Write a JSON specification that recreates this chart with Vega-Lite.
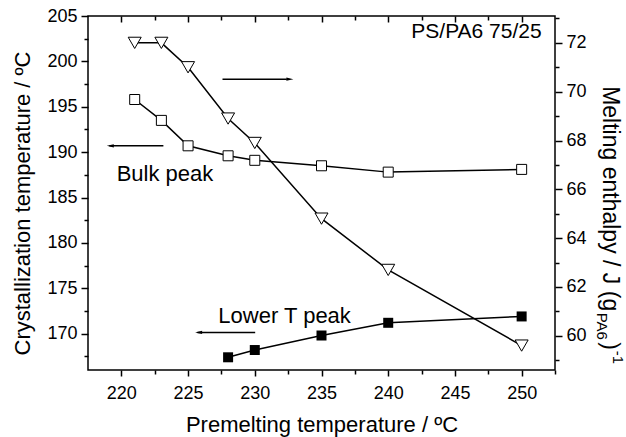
{
  "$schema": "https://vega.github.io/schema/vega-lite/v6.json",
  "width": 467,
  "height": 354,
  "autosize": {"type": "none"},
  "padding": {"left": 88, "top": 16, "right": 71, "bottom": 67},
  "background": "white",
  "config": {
    "view": {"stroke": "black", "strokeWidth": 1.5},
    "font": "Liberation Sans",
    "axis": {"domain": false, "grid": false, "tickColor": "black", "tickWidth": 1.5, "labelColor": "black", "titleColor": "black", "labelFont": "Liberation Sans", "titleFont": "Liberation Sans", "labelFontSize": 18, "titleFontSize": 22, "titleFontWeight": "normal", "labelOverlap": false}
  },
  "datasets": {
    "pts": [
      {"T": 221, "v": 195.8, "s": "bulk"},
      {"T": 223, "v": 193.5, "s": "bulk"},
      {"T": 225, "v": 190.7, "s": "bulk"},
      {"T": 228, "v": 189.6, "s": "bulk"},
      {"T": 230, "v": 189.1, "s": "bulk"},
      {"T": 235, "v": 188.5, "s": "bulk"},
      {"T": 240, "v": 187.8, "s": "bulk"},
      {"T": 250, "v": 188.1, "s": "bulk"},
      {"T": 228, "v": 167.4, "s": "lower"},
      {"T": 230, "v": 168.2, "s": "lower"},
      {"T": 235, "v": 169.8, "s": "lower"},
      {"T": 240, "v": 171.2, "s": "lower"},
      {"T": 250, "v": 171.9, "s": "lower"},
      {"T": 221, "v": 72.0, "s": "enth"},
      {"T": 223, "v": 72.0, "s": "enth"},
      {"T": 225, "v": 71.0, "s": "enth"},
      {"T": 228, "v": 68.9, "s": "enth"},
      {"T": 230, "v": 67.9, "s": "enth"},
      {"T": 235, "v": 64.8, "s": "enth"},
      {"T": 240, "v": 62.7, "s": "enth"},
      {"T": 250, "v": 59.6, "s": "enth"}
    ],
    "ann": [
      {"x": 219.65, "y": 187.6, "label": "Bulk peak", "a": "left"},
      {"x": 227.27, "y": 172.0, "label": "Lower T peak", "a": "left"},
      {"x": 251.5, "y": 203.2, "label": "PS/PA6 75/25", "a": "right"}
    ],
    "arrows": [
      {"x": 227.58, "x2": 232.4, "y": 198.04},
      {"x": 219.1, "x2": 223.15, "y": 190.7},
      {"x": 225.7, "x2": 230.03, "y": 170.14}
    ],
    "heads": [
      {"x": 232.63, "y": 198.04, "dir": "right"},
      {"x": 219.17, "y": 190.7, "dir": "left"},
      {"x": 225.79, "y": 170.14, "dir": "left"}
    ],
    "rt": [{"x": 256.1, "y": 197.27}]
  },
  "layer": [
    {
      "layer": [
        {"data": {"name": "pts"}, "mark": {"type": "point", "opacity": 0},
         "encoding": {"x": {"field": "T", "type": "quantitative", "scale": {"domain": [217.5, 252.5], "nice": false, "zero": false},
           "axis": {"orient": "bottom", "values": [220, 225, 230, 235, 240, 245, 250], "tickSize": 6, "labelPadding": 8, "title": "Premelting temperature / ºC", "titlePadding": 12}}}},
        {"data": {"name": "pts"}, "mark": {"type": "point", "opacity": 0},
         "encoding": {"x": {"field": "T", "type": "quantitative", "scale": {"domain": [217.5, 252.5], "nice": false, "zero": false},
           "axis": {"orient": "bottom", "values": [222.5, 227.5, 232.5, 237.5, 242.5, 247.5, 252.5], "tickSize": 4, "labels": false, "title": null}}}},
        {"data": {"name": "pts"}, "mark": {"type": "point", "opacity": 0},
         "encoding": {"x": {"field": "T", "type": "quantitative", "scale": {"domain": [217.5, 252.5], "nice": false, "zero": false},
           "axis": {"orient": "top", "values": [220, 225, 230, 235, 240, 245, 250], "tickSize": -6, "labels": false, "title": null}}}},
        {"data": {"name": "pts"}, "mark": {"type": "point", "opacity": 0},
         "encoding": {"x": {"field": "T", "type": "quantitative", "scale": {"domain": [217.5, 252.5], "nice": false, "zero": false},
           "axis": {"orient": "top", "values": [222.5, 227.5, 232.5, 237.5, 242.5, 247.5], "tickSize": -4, "labels": false, "title": null}}}},
        {"data": {"name": "pts"}, "mark": {"type": "point", "opacity": 0},
         "encoding": {"y": {"field": "v", "type": "quantitative", "scale": {"domain": [166, 205], "nice": false, "zero": false},
           "axis": {"orient": "left", "values": [170, 175, 180, 185, 190, 195, 200, 205], "tickSize": 7, "labelPadding": 4, "title": "Crystallization temperature / ºC", "titlePadding": 12, "titleY": 187}}}},
        {"data": {"name": "pts"}, "mark": {"type": "point", "opacity": 0},
         "encoding": {"y": {"field": "v", "type": "quantitative", "scale": {"domain": [166, 205], "nice": false, "zero": false},
           "axis": {"orient": "left", "values": [167.5, 172.5, 177.5, 182.5, 187.5, 192.5, 197.5, 202.5], "tickSize": 4, "labels": false, "title": null}}}},
        {"data": {"name": "pts"}, "transform": [{"filter": "datum.s === 'bulk'"}],
         "mark": {"type": "line", "color": "black", "strokeWidth": 1.5},
         "encoding": {"x": {"field": "T", "type": "quantitative", "scale": {"domain": [217.5, 252.5], "nice": false, "zero": false}, "axis": null},
                      "y": {"field": "v", "type": "quantitative", "scale": {"domain": [166, 205], "nice": false, "zero": false}, "axis": null}}},
        {"data": {"name": "pts"}, "transform": [{"filter": "datum.s === 'lower'"}],
         "mark": {"type": "line", "color": "black", "strokeWidth": 1.5},
         "encoding": {"x": {"field": "T", "type": "quantitative", "scale": {"domain": [217.5, 252.5], "nice": false, "zero": false}, "axis": null},
                      "y": {"field": "v", "type": "quantitative", "scale": {"domain": [166, 205], "nice": false, "zero": false}, "axis": null}}},
        {"data": {"name": "pts"}, "transform": [{"filter": "datum.s === 'bulk'"}],
         "mark": {"type": "point", "shape": "square", "size": 100, "filled": true, "fill": "white", "stroke": "black", "strokeWidth": 1, "opacity": 1},
         "encoding": {"x": {"field": "T", "type": "quantitative", "scale": {"domain": [217.5, 252.5], "nice": false, "zero": false}, "axis": null},
                      "y": {"field": "v", "type": "quantitative", "scale": {"domain": [166, 205], "nice": false, "zero": false}, "axis": null}}},
        {"data": {"name": "pts"}, "transform": [{"filter": "datum.s === 'lower'"}],
         "mark": {"type": "point", "shape": "square", "size": 100, "filled": true, "color": "black", "opacity": 1},
         "encoding": {"x": {"field": "T", "type": "quantitative", "scale": {"domain": [217.5, 252.5], "nice": false, "zero": false}, "axis": null},
                      "y": {"field": "v", "type": "quantitative", "scale": {"domain": [166, 205], "nice": false, "zero": false}, "axis": null}}},
        {"data": {"name": "ann"}, "transform": [{"filter": "datum.a === 'left'"}],
         "mark": {"type": "text", "align": "left", "baseline": "middle", "fontSize": 22, "color": "black", "font": "Liberation Sans"},
         "encoding": {"x": {"field": "x", "type": "quantitative", "scale": {"domain": [217.5, 252.5], "nice": false, "zero": false}, "axis": null},
                      "y": {"field": "y", "type": "quantitative", "scale": {"domain": [166, 205], "nice": false, "zero": false}, "axis": null},
                      "text": {"field": "label"}}},
        {"data": {"name": "ann"}, "transform": [{"filter": "datum.a === 'right'"}],
         "mark": {"type": "text", "align": "right", "baseline": "middle", "fontSize": 21, "color": "black", "font": "Liberation Sans"},
         "encoding": {"x": {"field": "x", "type": "quantitative", "scale": {"domain": [217.5, 252.5], "nice": false, "zero": false}, "axis": null},
                      "y": {"field": "y", "type": "quantitative", "scale": {"domain": [166, 205], "nice": false, "zero": false}, "axis": null},
                      "text": {"field": "label"}}},
        {"data": {"name": "arrows"},
         "mark": {"type": "rule", "color": "black", "strokeWidth": 1.5},
         "encoding": {"x": {"field": "x", "type": "quantitative", "scale": {"domain": [217.5, 252.5], "nice": false, "zero": false}, "axis": null},
                      "x2": {"field": "x2"},
                      "y": {"field": "y", "type": "quantitative", "scale": {"domain": [166, 205], "nice": false, "zero": false}, "axis": null}}},
        {"data": {"name": "heads"},
         "mark": {"type": "point", "size": 49, "filled": true, "color": "black", "opacity": 1},
         "encoding": {"x": {"field": "x", "type": "quantitative", "scale": {"domain": [217.5, 252.5], "nice": false, "zero": false}, "axis": null},
                      "y": {"field": "y", "type": "quantitative", "scale": {"domain": [166, 205], "nice": false, "zero": false}, "axis": null},
                      "shape": {"field": "dir", "type": "nominal", "scale": {"domain": ["left", "right"], "range": ["M1,-0.45L-1,0L1,0.45Z", "M-1,-0.45L1,0L-1,0.45Z"]}, "legend": null}}},
        {"data": {"name": "rt"},
         "mark": {"type": "text", "text": "Melting enthalpy / J (g", "angle": 90, "align": "left", "baseline": "alphabetic", "fontSize": 23, "color": "black", "font": "Liberation Sans"},
         "encoding": {"x": {"field": "x", "type": "quantitative", "scale": {"domain": [217.5, 252.5], "nice": false, "zero": false}, "axis": null},
                      "y": {"field": "y", "type": "quantitative", "scale": {"domain": [166, 205], "nice": false, "zero": false}, "axis": null}}},
        {"data": {"name": "rt"},
         "mark": {"type": "text", "text": "PA6", "angle": 90, "align": "left", "baseline": "alphabetic", "fontSize": 15, "dx": 226.5, "dy": 6, "color": "black", "font": "Liberation Sans"},
         "encoding": {"x": {"field": "x", "type": "quantitative", "scale": {"domain": [217.5, 252.5], "nice": false, "zero": false}, "axis": null},
                      "y": {"field": "y", "type": "quantitative", "scale": {"domain": [166, 205], "nice": false, "zero": false}, "axis": null}}},
        {"data": {"name": "rt"},
         "mark": {"type": "text", "text": ")", "angle": 90, "align": "left", "baseline": "alphabetic", "fontSize": 23, "dx": 256, "color": "black", "font": "Liberation Sans"},
         "encoding": {"x": {"field": "x", "type": "quantitative", "scale": {"domain": [217.5, 252.5], "nice": false, "zero": false}, "axis": null},
                      "y": {"field": "y", "type": "quantitative", "scale": {"domain": [166, 205], "nice": false, "zero": false}, "axis": null}}},
        {"data": {"name": "rt"},
         "mark": {"type": "text", "text": "-1", "angle": 90, "align": "left", "baseline": "alphabetic", "fontSize": 15, "dx": 264.5, "dy": -10, "color": "black", "font": "Liberation Sans"},
         "encoding": {"x": {"field": "x", "type": "quantitative", "scale": {"domain": [217.5, 252.5], "nice": false, "zero": false}, "axis": null},
                      "y": {"field": "y", "type": "quantitative", "scale": {"domain": [166, 205], "nice": false, "zero": false}, "axis": null}}}
      ],
      "resolve": {"axis": {"x": "independent", "y": "independent"}}
    },
    {
      "layer": [
        {"data": {"name": "pts"}, "mark": {"type": "point", "opacity": 0},
         "encoding": {"y": {"field": "v", "type": "quantitative", "scale": {"domain": [58.6, 73.1], "nice": false, "zero": false},
           "axis": {"orient": "right", "values": [60, 62, 64, 66, 68, 70, 72], "tickSize": 7, "labelPadding": 4, "title": null}}}},
        {"data": {"name": "pts"}, "mark": {"type": "point", "opacity": 0},
         "encoding": {"y": {"field": "v", "type": "quantitative", "scale": {"domain": [58.6, 73.1], "nice": false, "zero": false},
           "axis": {"orient": "right", "values": [59, 61, 63, 65, 67, 69, 71, 73], "tickSize": 4, "labels": false, "title": null}}}},
        {"data": {"name": "pts"}, "transform": [{"filter": "datum.s === 'enth'"}],
         "mark": {"type": "line", "color": "black", "strokeWidth": 1.5},
         "encoding": {"x": {"field": "T", "type": "quantitative", "scale": {"domain": [217.5, 252.5], "nice": false, "zero": false}, "axis": null},
                      "y": {"field": "v", "type": "quantitative", "scale": {"domain": [58.6, 73.1], "nice": false, "zero": false}, "axis": null}}},
        {"data": {"name": "pts"}, "transform": [{"filter": "datum.s === 'enth'"}],
         "mark": {"type": "point", "shape": "triangle-down", "size": 169, "filled": true, "fill": "white", "stroke": "black", "strokeWidth": 1, "opacity": 1},
         "encoding": {"x": {"field": "T", "type": "quantitative", "scale": {"domain": [217.5, 252.5], "nice": false, "zero": false}, "axis": null},
                      "y": {"field": "v", "type": "quantitative", "scale": {"domain": [58.6, 73.1], "nice": false, "zero": false}, "axis": null}}}
      ],
      "resolve": {"axis": {"y": "independent"}}
    }
  ],
  "resolve": {"scale": {"y": "independent"}, "axis": {"x": "independent", "y": "independent"}}
}
